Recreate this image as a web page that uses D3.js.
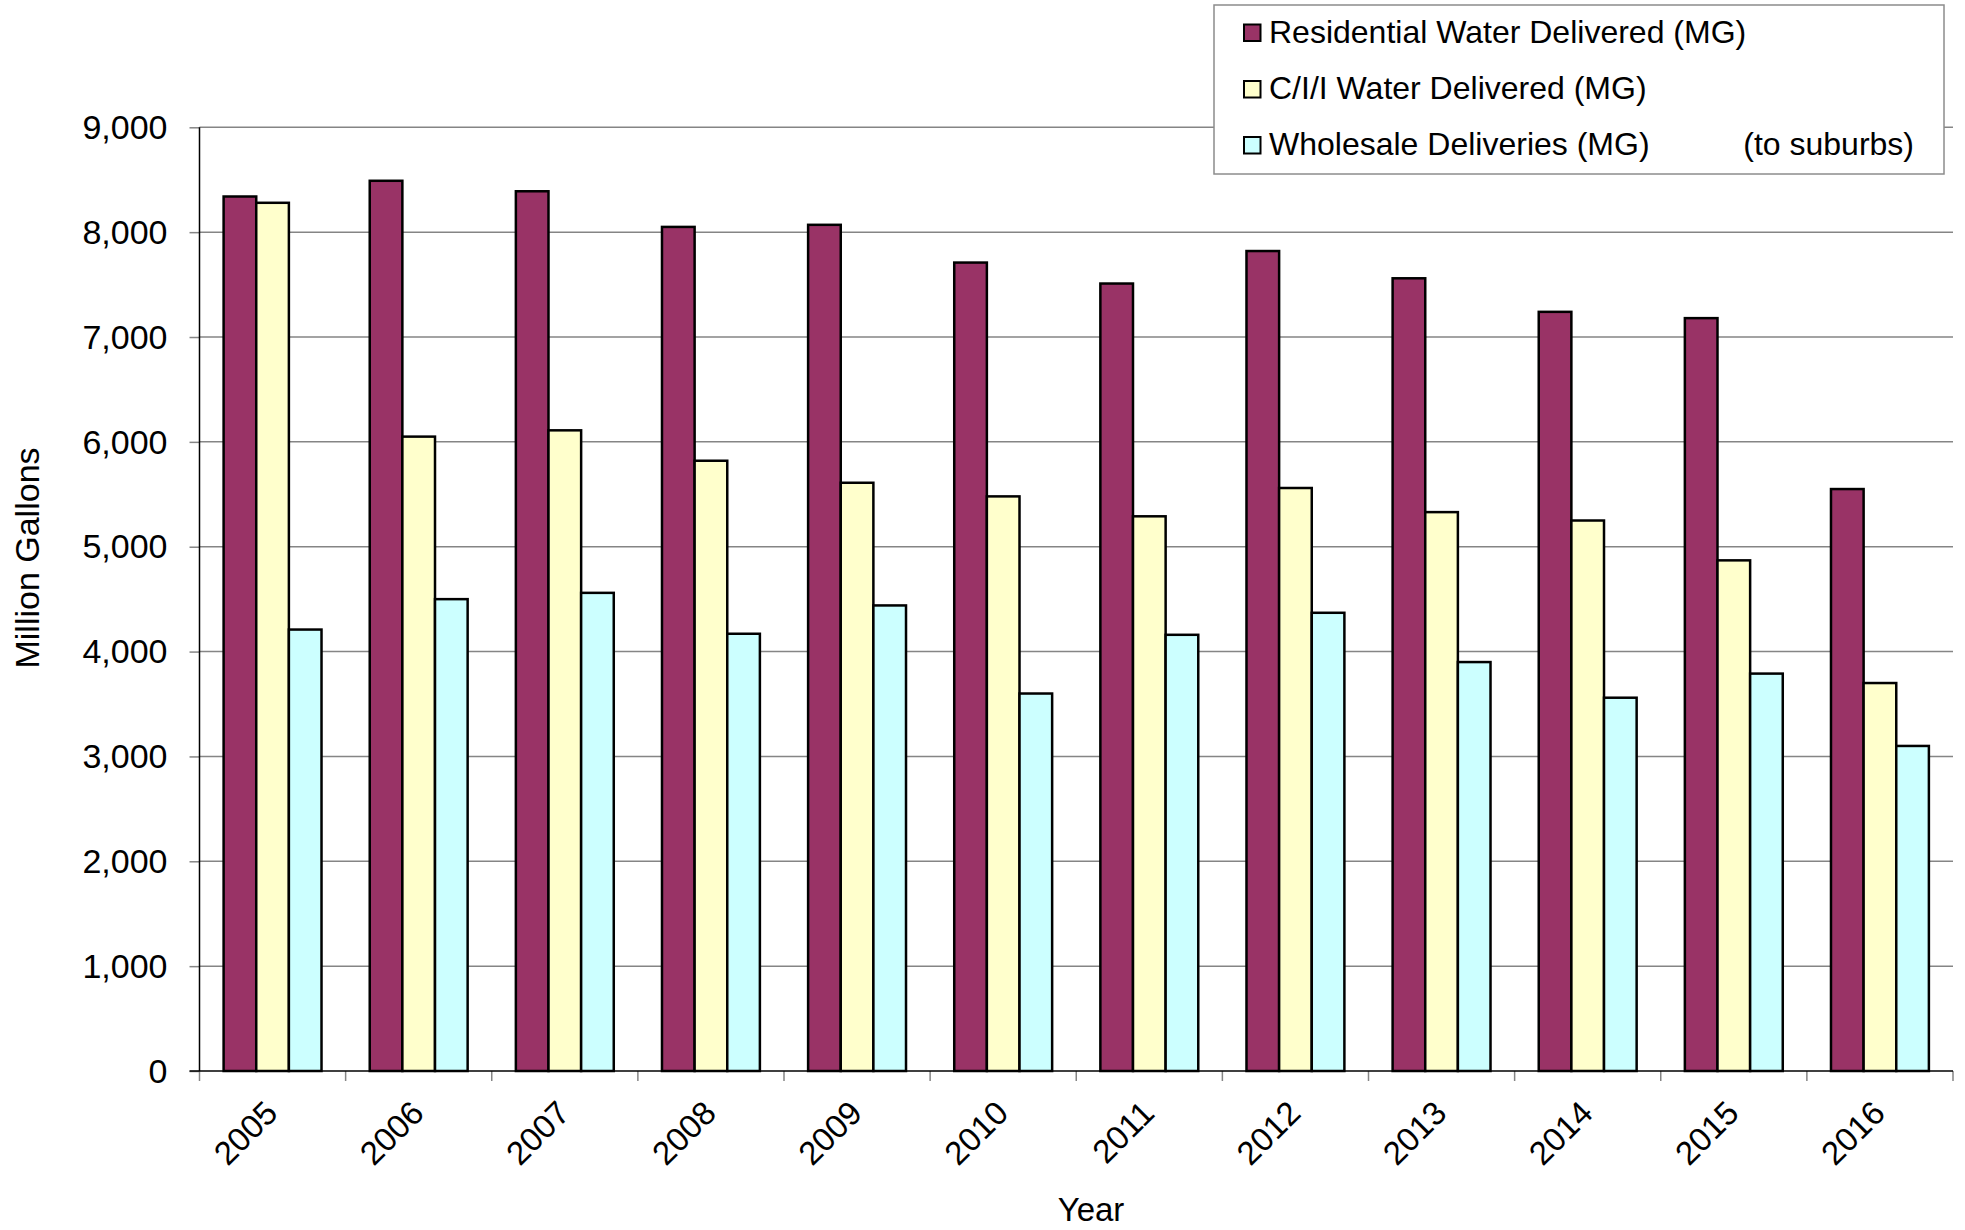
<!DOCTYPE html>
<html>
<head>
<meta charset="utf-8">
<script src="https://cdn.jsdelivr.net/npm/d3@7"></script>
<style>
  html, body { margin: 0; padding: 0; background: #fff; }
  svg { display: block; font-family: "Liberation Sans", Arial, sans-serif; }
</style>
</head>
<body>
<svg id="chart" width="1965" height="1230"></svg>
<script>
const years = ["2005","2006","2007","2008","2009","2010","2011","2012","2013","2014","2015","2016"];
const seriesNames = ["Residential Water Delivered (MG)", "C/I/I Water Delivered (MG)", "Wholesale Deliveries (MG)"];
const residential = [8340, 8490, 8390, 8050, 8070, 7710, 7510, 7820, 7560, 7240, 7180, 5550];
const cii         = [8280, 6050, 6110, 5820, 5610, 5480, 5290, 5560, 5330, 5250, 4870, 3700];
const wholesale   = [4210, 4500, 4560, 4170, 4440, 3600, 4160, 4370, 3900, 3560, 3790, 3100];
const yTicks = [0, 1000, 2000, 3000, 4000, 5000, 6000, 7000, 8000, 9000];
const colors = ["#993366", "#FFFFCC", "#CCFFFF"];
const yTitle = "Million Gallons";
const xTitle = "Year";
const legendNote = "(to suburbs)";

const seriesValues = [residential, cii, wholesale];

const svg = d3.select("#chart");
const plotLeft = 199.5, plotRight = 1953, plotTop = 127.3, plotBottom = 1071;

const x = d3.scaleBand().domain(years).range([plotLeft, plotRight]).paddingInner(0.33).paddingOuter(0.165);
const xs = d3.scaleBand().domain(d3.range(seriesNames.length)).range([0, x.bandwidth()]).padding(0);
const y = d3.scaleLinear().domain([0, 9000]).range([plotBottom, plotTop]);

// gridlines
svg.append("g").selectAll("line").data(yTicks.filter(d => d > 0)).join("line")
  .attr("x1", plotLeft).attr("x2", plotRight)
  .attr("y1", d => y(d)).attr("y2", d => y(d))
  .attr("stroke", "#858585").attr("stroke-width", 1.5);

// bars
const groups = svg.append("g").selectAll("g").data(years).join("g")
  .attr("transform", d => `translate(${x(d)},0)`);
groups.selectAll("rect").data((d, i) => seriesValues.map((s, k) => ({k, v: s[i]}))).join("rect")
  .attr("x", d => xs(d.k))
  .attr("width", xs.bandwidth())
  .attr("y", d => y(d.v))
  .attr("height", d => y(0) - y(d.v))
  .attr("fill", d => colors[d.k])
  .attr("stroke", "#000").attr("stroke-width", 2.5);

// y axis
const yAxis = d3.axisLeft(y).tickValues(yTicks).tickFormat(d3.format(",")).tickSize(10).tickPadding(22);
const gy = svg.append("g").attr("transform", `translate(${plotLeft},0)`).call(yAxis);
gy.select(".domain").remove();
gy.selectAll(".tick line").attr("stroke", "#858585").attr("stroke-width", 1.5);
gy.selectAll(".tick text").attr("font-size", 34).attr("fill", "#000")
  .attr("font-family", "'Liberation Sans', Arial, sans-serif").attr("dy", "0.33em");

// x axis ticks at band boundaries
const step = x.step();
const boundaries = years.map(d => x(d) - step * x.paddingInner() / 2).concat([plotRight]);
svg.append("g").selectAll("line").data(boundaries).join("line")
  .attr("x1", d => d).attr("x2", d => d)
  .attr("y1", plotBottom).attr("y2", plotBottom + 10)
  .attr("stroke", "#858585").attr("stroke-width", 1.5);

// axis lines
svg.append("line").attr("x1", plotLeft).attr("x2", plotLeft).attr("y1", plotTop).attr("y2", plotBottom)
  .attr("stroke", "#000").attr("stroke-width", 1.5);
svg.append("line").attr("x1", plotLeft - 10).attr("x2", plotRight).attr("y1", plotBottom).attr("y2", plotBottom)
  .attr("stroke", "#000").attr("stroke-width", 1.5);

// x labels
svg.append("g").selectAll("text").data(years).join("text")
  .attr("transform", d => `translate(${x(d) + x.bandwidth() / 2 + 7},${plotBottom + 44}) rotate(-45)`)
  .attr("text-anchor", "end")
  .attr("font-size", 33)
  .text(d => d);

// axis titles
svg.append("text").attr("transform", `translate(39,558) rotate(-90)`)
  .attr("text-anchor", "middle").attr("font-size", 34).text(yTitle);
svg.append("text").attr("x", 1091).attr("y", 1221)
  .attr("text-anchor", "middle").attr("font-size", 33).text(xTitle);

// legend
const lg = svg.append("g");
lg.append("rect").attr("x", 1214).attr("y", 5).attr("width", 730).attr("height", 169)
  .attr("fill", "#fff").attr("stroke", "#8c8c8c").attr("stroke-width", 1.5);
const rowBase = [42.5, 99, 155];
seriesNames.forEach((name, i) => {
  lg.append("rect").attr("x", 1244).attr("y", rowBase[i] - 18).attr("width", 16.5).attr("height", 16.5)
    .attr("fill", colors[i]).attr("stroke", "#000").attr("stroke-width", 2);
  lg.append("text").attr("x", 1269).attr("y", rowBase[i]).attr("font-size", 32).text(name);
});
lg.append("text").attr("x", 1914).attr("y", rowBase[2]).attr("text-anchor", "end")
  .attr("font-size", 32).text(legendNote);
</script>
</body>
</html>
